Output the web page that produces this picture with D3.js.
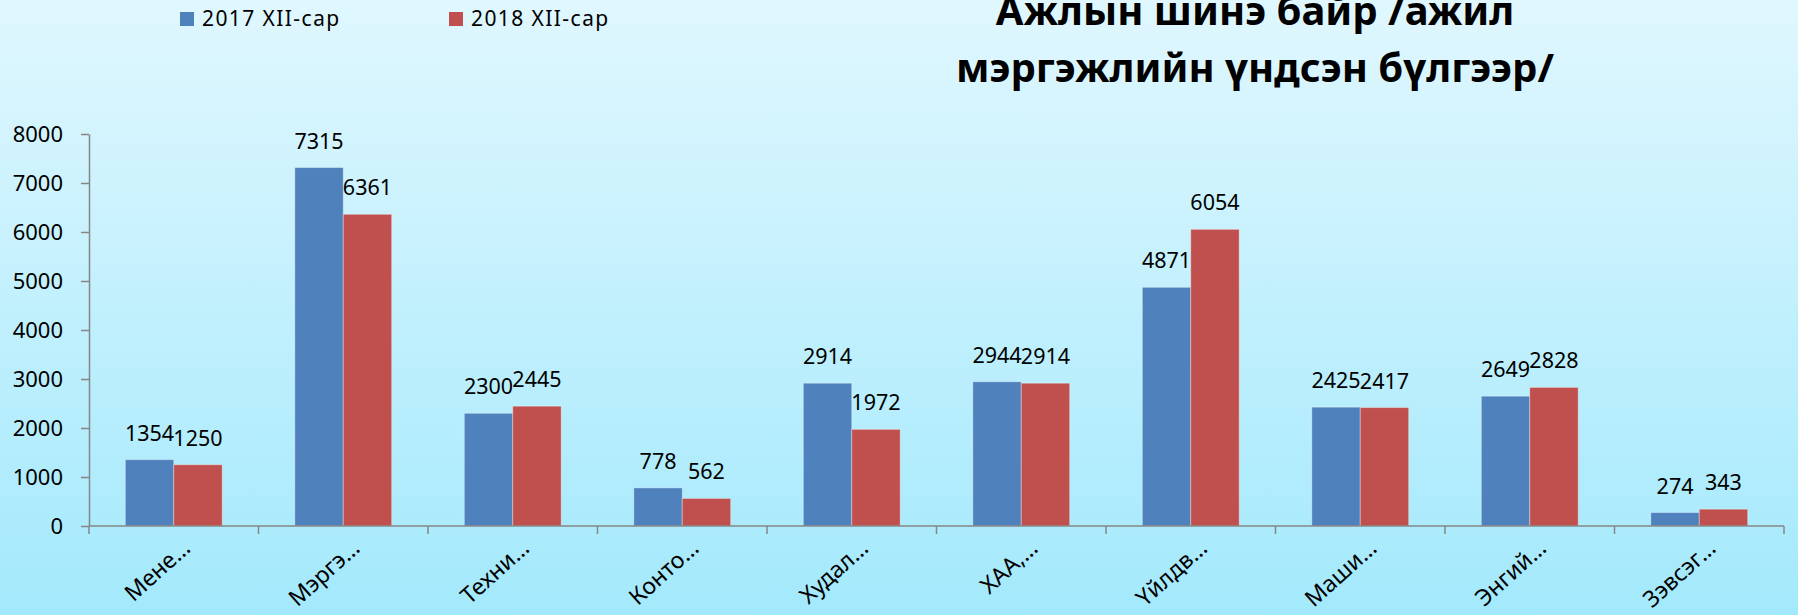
<!DOCTYPE html>
<html lang="mn">
<head>
<meta charset="UTF-8">
<title>Ажлын шинэ байр</title>
<script src="https://d3js.org/d3.v7.min.js"></script>
<style>
    html, body {
        margin: 0;
        padding: 0;
        overflow: hidden;
    }
    svg text {
        font-family: "Noto Sans", "DejaVu Sans", sans-serif;
        fill: #000;
    }
</style>
</head>
<body>
<script>
// chart data
var categories = ["Мене…", "Мэргэ…", "Техни…", "Конто…", "Худал…",
                  "ХАА,…", "Үйлдв…", "Маши…", "Энгий…", "Зэвсэг…"];
var seriesNames = ["2017 XII-сар", "2018 XII-сар"];
var values2017 = [1354, 7315, 2300, 778, 2914, 2944, 4871, 2425, 2649, 274];
var values2018 = [1250, 6361, 2445, 562, 1972, 2914, 6054, 2417, 2828, 343];
var yTicks = [0, 1000, 2000, 3000, 4000, 5000, 6000, 7000, 8000];
var titleLines = ["Ажлын шинэ байр /ажил", "мэргэжлийн үндсэн бүлгээр/"];

var colors = ["#4f81bd", "#c0504d"];
var width = 1798, height = 615;
var plot = { left: 89, right: 1784, top: 134, bottom: 526 };

var rows = categories.map(function (c, i) {
    return { cat: c, vals: [values2017[i], values2018[i]] };
});

var svg = d3.select("body").append("svg")
    .attr("width", width)
    .attr("height", height);

// background gradient
var grad = svg.append("defs").append("linearGradient")
    .attr("id", "bg")
    .attr("x1", 0).attr("y1", 0).attr("x2", 0).attr("y2", 1);
grad.append("stop").attr("offset", "0%").attr("stop-color", "#e0f7fe");
grad.append("stop").attr("offset", "100%").attr("stop-color", "#a3e9fc");
svg.append("rect")
    .attr("width", width).attr("height", height)
    .attr("fill", "url(#bg)");

// scales
var x0 = d3.scaleBand()
    .domain(categories)
    .range([plot.left, plot.right])
    .padding(0);

var x1 = d3.scaleBand()
    .domain([0, 1])
    .range([0, x0.bandwidth()])
    .paddingInner(0)
    .paddingOuter(0.75);

var y = d3.scaleLinear()
    .domain([0, 8000])
    .range([plot.bottom, plot.top]);

// bars
var groups = svg.append("g").selectAll("g")
    .data(rows)
    .enter().append("g")
    .attr("transform", function (d) { return "translate(" + x0(d.cat) + ",0)"; });

groups.selectAll("rect")
    .data(function (d) { return d.vals; })
    .enter().append("rect")
    .attr("x", function (d, i) { return x1(i); })
    .attr("y", function (d) { return y(d); })
    .attr("width", x1.bandwidth())
    .attr("height", function (d) { return y(0) - y(d); })
    .attr("fill", function (d, i) { return colors[i]; })
    .attr("stroke", "rgba(255,255,255,0.35)")
    .attr("stroke-width", 1);

// value labels
groups.selectAll("text")
    .data(function (d) { return d.vals; })
    .enter().append("text")
    .attr("x", function (d, i) { return x1(i) + x1.bandwidth() / 2; })
    .attr("y", function (d) { return y(d) - 19; })
    .attr("text-anchor", "middle")
    .style("font-size", "21.5px")
    .text(function (d) { return d; });

// y axis
var yAxis = svg.append("g")
    .attr("transform", "translate(" + plot.left + ",0)")
    .call(d3.axisLeft(y).tickValues(yTicks).tickFormat(d3.format("d"))
        .tickSize(8).tickPadding(18).tickSizeOuter(0));
yAxis.select(".domain").attr("stroke", "#868686").attr("stroke-width", 1.5);
yAxis.selectAll(".tick line").attr("stroke", "#868686").attr("stroke-width", 1.5);
yAxis.selectAll(".tick text")
    .style("font-size", "22px")
    .attr("fill", "#000");

// x axis line with ticks at category edges
var xAxis = svg.append("g");
xAxis.append("line")
    .attr("x1", plot.left).attr("x2", plot.right)
    .attr("y1", y(0)).attr("y2", y(0))
    .attr("stroke", "#868686").attr("stroke-width", 1.5);
var edges = categories.map(function (c) { return x0(c); }).concat([plot.right]);
xAxis.selectAll("line.edge")
    .data(edges)
    .enter().append("line")
    .attr("class", "edge")
    .attr("x1", function (d) { return d; }).attr("x2", function (d) { return d; })
    .attr("y1", y(0)).attr("y2", y(0) + 8)
    .attr("stroke", "#868686").attr("stroke-width", 1.5);

// rotated category labels
xAxis.selectAll("text")
    .data(categories)
    .enter().append("text")
    .attr("text-anchor", "end")
    .attr("transform", function (d) {
        var cx = x0(d) + x0.bandwidth() / 2 + 18;
        return "translate(" + cx + "," + (y(0) + 24) + ") rotate(-42)";
    })
    .style("font-size", "23px")
    .text(function (d) { return d; });

// legend
var legend = svg.append("g").selectAll("g")
    .data(seriesNames)
    .enter().append("g")
    .attr("transform", function (d, i) { return "translate(" + (180 + i * 269) + ",0)"; });
legend.append("rect")
    .attr("x", 0).attr("y", 12)
    .attr("width", 14).attr("height", 14)
    .attr("fill", function (d, i) { return colors[i]; });
legend.append("text")
    .attr("x", 22).attr("y", 26)
    .style("font-size", "21px")
    .style("letter-spacing", "1.4px")
    .text(function (d) { return d; });

// title
svg.append("g").selectAll("text")
    .data(titleLines)
    .enter().append("text")
    .attr("x", 1255)
    .attr("y", function (d, i) { return 25 + i * 57; })
    .attr("text-anchor", "middle")
    .style("font-size", "40px")
    .style("font-weight", "bold")
    .text(function (d) { return d; });
</script>
</body>
</html>
